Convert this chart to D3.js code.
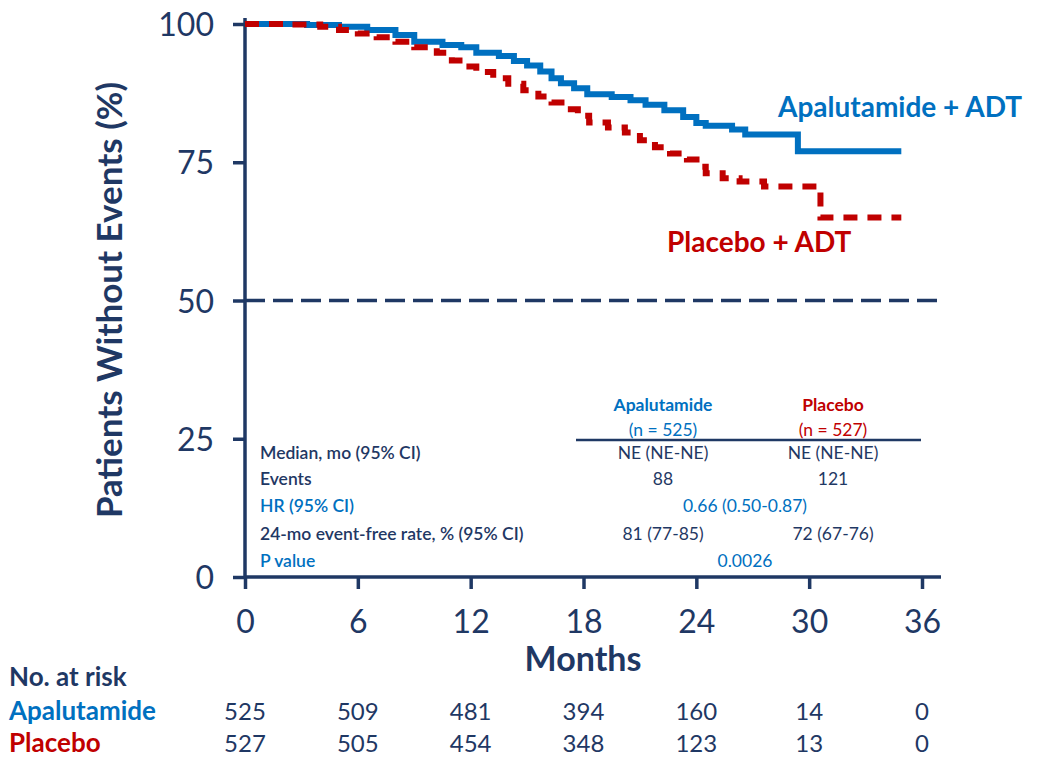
<!DOCTYPE html>
<html><head><meta charset="utf-8">
<script src="https://cdn.jsdelivr.net/npm/d3@7"></script>
<style>
html,body{margin:0;padding:0;background:#fff;}
svg text{font-family:Lato,"Open Sans",sans-serif;}
</style></head>
<body><svg id="c" width="1052" height="760"></svg>
<script>
// ---- data ----
const apaTime = [0,3.3,5.0,6.5,8.0,9.0,10.5,11.5,12.3,13.5,14.3,15.0,15.7,16.3,16.8,17.5,18.2,19.5,20.5,21.3,22.3,23.3,24.0,24.5,25.9,26.6,29.4,34.9];
const apaSurv = [100,99.8,99.5,98.9,98.0,96.8,96.2,95.8,94.8,94.2,93.3,92.5,91.4,90.2,89.3,88.4,87.3,86.8,86.2,85.4,84.4,83.2,82.1,81.6,80.9,80.0,77.0,77.0];
const plaTime = [0,2.5,4.0,5.0,6.0,7.0,8.0,9.0,10.2,11.0,11.6,12.3,13.2,14.0,14.8,15.6,16.3,17.1,17.7,18.3,19.3,20.2,21.0,21.8,22.6,23.5,24.3,24.5,25.4,26.3,27.6,30.6,34.9];
const plaSurv = [100,99.9,99.5,98.9,98.3,97.6,96.8,95.8,94.8,93.4,92.3,91.3,90.2,89.2,88.0,86.9,85.8,84.6,83.4,82.2,81.3,80.4,79.0,77.7,76.6,75.5,74.2,73.0,72.1,71.5,70.6,65.0,65.0];
const xTicks = [0,6,12,18,24,30,36];
const yTicks = [0,25,50,75,100];
const riskApa = [525,509,481,394,160,14,0];
const riskPla = [527,505,454,348,123,13,0];
const tableRows = ["Median, mo (95% CI)","Events","HR (95% CI)","24-mo event-free rate, % (95% CI)","P value"];
const tableApa = ["NE (NE-NE)","88",null,"81 (77-85)",null];
const tablePla = ["NE (NE-NE)","121",null,"72 (67-76)",null];
const tableBoth = [null,null,"0.66 (0.50-0.87)",null,"0.0026"];

const NAVY="#1F3864", BLUE="#0070C0", RED="#C00000";
const svg = d3.select("#c");
const x = d3.scaleLinear().domain([0,36]).range([245,922]);
const y = d3.scaleLinear().domain([0,100]).range([577,24]);

// 50% reference line
svg.append("line").attr("x1",x(0)).attr("x2",941).attr("y1",y(50)).attr("y2",y(50))
  .attr("stroke",NAVY).attr("stroke-width",3.5).attr("stroke-dasharray","20 8");

// axes
const xAxis = svg.append("g").attr("transform",`translate(0,${y(0)})`)
  .call(d3.axisBottom(x).tickValues(xTicks).tickSize(12).tickPadding(21).tickSizeOuter(0));
xAxis.select(".domain").attr("d",`M${x(0)},0H941`);
const yAxis = svg.append("g").attr("transform",`translate(${x(0)},0)`)
  .call(d3.axisLeft(y).tickValues(yTicks).tickSize(12).tickPadding(19).tickSizeOuter(0));
yAxis.select(".domain").attr("d",`M0,18V${y(0)+1.5}`);
[xAxis,yAxis].forEach(g=>{
  g.selectAll("path,line").attr("stroke",NAVY).attr("stroke-width",3.5);
  g.selectAll("text").attr("fill",NAVY).attr("font-size",32).style("font-family","Lato,sans-serif");
});
yAxis.selectAll("text").attr("dy","0.36em");

// curves
const line = d3.line().x(d=>x(d[0])).y(d=>y(d[1])).curve(d3.curveStepAfter);
svg.append("path").datum(apaTime.map((t,i)=>[t,apaSurv[i]])).attr("d",line)
  .attr("fill","none").attr("stroke",BLUE).attr("stroke-width",6);
svg.append("path").datum(plaTime.map((t,i)=>[t,plaSurv[i]])).attr("d",line)
  .attr("fill","none").attr("stroke",RED).attr("stroke-width",6).attr("stroke-dasharray","14 10");

// series labels
svg.append("text").attr("x",778).attr("y",117).attr("fill",BLUE).attr("font-size",28).attr("font-weight","bold").text("Apalutamide + ADT");
svg.append("text").attr("x",667).attr("y",252).attr("fill",RED).attr("font-size",28).attr("font-weight","bold").text("Placebo + ADT");

// axis titles
svg.append("text").attr("transform","translate(122,300) rotate(-90)").attr("text-anchor","middle")
  .attr("fill",NAVY).attr("font-size",35).attr("font-weight","bold").text("Patients Without Events (%)");
svg.append("text").attr("x",583).attr("y",671).attr("text-anchor","middle")
  .attr("fill",NAVY).attr("font-size",34).attr("font-weight","bold").text("Months");

// stats table
const colA=663, colP=833, colM=745;
const rowY=[459,485,512,540,567];
const fs=17.5;
svg.append("text").attr("x",colA).attr("y",411).attr("text-anchor","middle").attr("fill",BLUE).attr("font-size",fs).attr("font-weight","bold").text("Apalutamide");
svg.append("text").attr("x",colA).attr("y",436).attr("text-anchor","middle").attr("fill",BLUE).attr("font-size",fs).text("(n = 525)");
svg.append("text").attr("x",colP).attr("y",411).attr("text-anchor","middle").attr("fill",RED).attr("font-size",fs).attr("font-weight","bold").text("Placebo");
svg.append("text").attr("x",colP).attr("y",436).attr("text-anchor","middle").attr("fill",RED).attr("font-size",fs).text("(n = 527)");
svg.append("line").attr("x1",576).attr("x2",921).attr("y1",440).attr("y2",440).attr("stroke",NAVY).attr("stroke-width",2.5);
tableRows.forEach((r,i)=>{
  const c = (i===2||i===4)?BLUE:NAVY;
  svg.append("text").attr("x",260).attr("y",rowY[i]).attr("fill",c).attr("font-size",fs).attr("font-weight",600).text(r);
  if(tableApa[i]) svg.append("text").attr("x",colA).attr("y",rowY[i]).attr("text-anchor","middle").attr("fill",NAVY).attr("font-size",fs).text(tableApa[i]);
  if(tablePla[i]) svg.append("text").attr("x",colP).attr("y",rowY[i]).attr("text-anchor","middle").attr("fill",NAVY).attr("font-size",fs).text(tablePla[i]);
  if(tableBoth[i]) svg.append("text").attr("x",colM).attr("y",rowY[i]).attr("text-anchor","middle").attr("fill",BLUE).attr("font-size",fs).text(tableBoth[i]);
});

// number at risk
svg.append("text").attr("x",9).attr("y",686).attr("fill",NAVY).attr("font-size",26).attr("font-weight","bold").text("No. at risk");
svg.append("text").attr("x",9).attr("y",720).attr("fill",BLUE).attr("font-size",26).attr("font-weight","bold").text("Apalutamide");
svg.append("text").attr("x",9).attr("y",752).attr("fill",RED).attr("font-size",26).attr("font-weight","bold").text("Placebo");
xTicks.forEach((t,i)=>{
  svg.append("text").attr("x",x(t)).attr("y",720).attr("text-anchor","middle").attr("fill",NAVY).attr("font-size",24).text(riskApa[i]);
  svg.append("text").attr("x",x(t)).attr("y",752).attr("text-anchor","middle").attr("fill",NAVY).attr("font-size",24).text(riskPla[i]);
});
</script></body></html>
